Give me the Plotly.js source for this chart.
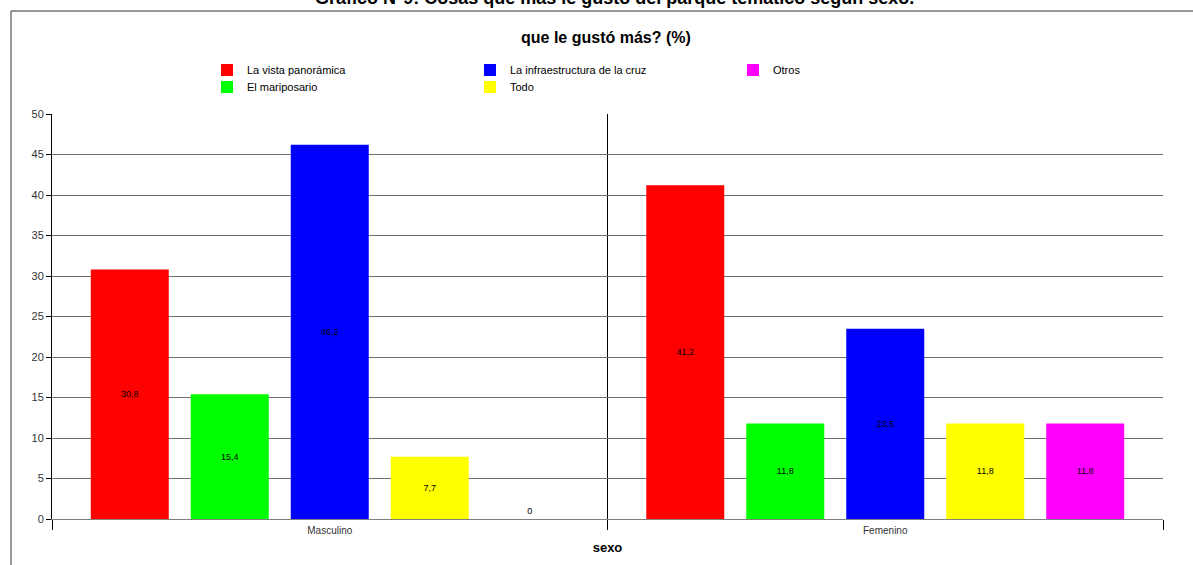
<!DOCTYPE html>
<html>
<head>
<meta charset="utf-8">
<script src="https://cdn.plot.ly/plotly-3.0.1.min.js"></script>
<style>
  html, body { margin: 0; padding: 0; background: #ffffff; }
  #chart { width: 1193px; height: 565px; }
</style>
</head>
<body>
<div id="chart"></div>
<script>
// Categories on the x axis
const categories = ['Masculino', 'Femenino'];

// Percentages per answer, one value per category
const vistaPanoramica = [30.8, 41.2];
const mariposario = [15.4, 11.8];
const infraestructuraCruz = [46.2, 23.5];
const todo = [7.7, 11.8];
const otros = [0, 11.8];

// Series names and colours, in bar order
const seriesNames = ['La vista panorámica', 'El mariposario', 'La infraestructura de la cruz', 'Todo', 'Otros'];
const seriesValues = [vistaPanoramica, mariposario, infraestructuraCruz, todo, otros];
const seriesColors = ['#ff0000', '#00ff00', '#0000ff', '#ffff00', '#ff00ff'];
// Legend row for each series (first row / second row)
const legendRow = ['legend', 'legend2', 'legend', 'legend2', 'legend'];

// Y-axis ticks
const yTicks = [0, 5, 10, 15, 20, 25, 30, 35, 40, 45, 50];

const FONT = '"Liberation Sans", Arial, sans-serif';

const traces = seriesNames.map((name, i) => ({
  type: 'bar',
  name: name,
  x: categories,
  y: seriesValues[i],
  legend: legendRow[i],
  marker: { color: seriesColors[i], line: { width: 0 } },
  text: seriesValues[i].map(v => String(v).replace('.', ',')),
  textposition: seriesValues[i].map(v => (v > 0 ? 'inside' : 'outside')),
  insidetextanchor: 'middle',
  textangle: 0,
  constraintext: 'none',
  cliponaxis: false,
  textfont: { family: FONT, size: 9, color: '#000000' },
  hoverinfo: 'name+y'
}));

const legendCommon = {
  orientation: 'h',
  xanchor: 'left',
  yanchor: 'middle',
  entrywidth: 218,
  entrywidthmode: 'pixels',
  font: { family: FONT, size: 11, color: '#000000' },
  bgcolor: 'rgba(0,0,0,0)',
  borderwidth: 0,
  itemclick: false,
  itemdoubleclick: false,
  traceorder: 'normal'
};

const layout = {
  width: 1193,
  height: 565,
  margin: { l: 52, r: 30, t: 114, b: 46, pad: 0 },
  paper_bgcolor: '#ffffff',
  plot_bgcolor: '#ffffff',
  font: { family: FONT, size: 11, color: '#333333' },
  separators: ',.',
  barmode: 'group',
  bargap: 0.1,
  bargroupgap: 0.22,
  showlegend: true,
  legend: Object.assign({ x: 0.1395, y: 1.1086 }, legendCommon),
  legend2: Object.assign({ x: 0.1395, y: 1.0667 }, legendCommon),
  xaxis: {
    type: 'category',
    tickson: 'boundaries',
    ticks: 'outside',
    ticklen: 10,
    tickcolor: '#000000',
    showgrid: true,
    gridcolor: '#000000',
    gridwidth: 1,
    showline: true,
    linecolor: '#808080',
    linewidth: 1,
    ticklabelstandoff: 2,
    tickfont: { family: FONT, size: 10, color: '#333333' },
    title: { text: '<b>sexo</b>', font: { family: FONT, size: 13, color: '#000000' }, standoff: 7 },
    fixedrange: true
  },
  yaxis: {
    range: [0, 50],
    autorange: false,
    tickvals: yTicks,
    ticks: 'outside',
    ticklen: 5,
    tickcolor: '#000000',
    showline: true,
    linecolor: '#000000',
    showgrid: true,
    gridcolor: '#6e6e6e',
    gridwidth: 1,
    zeroline: false,
    tickfont: { family: FONT, size: 11, color: '#333333' },
    fixedrange: true
  },
  yaxis2: {
    overlaying: 'y',
    side: 'right',
    range: [0, 50],
    autorange: false,
    tickvals: yTicks,
    ticks: 'outside',
    ticklen: 5,
    tickcolor: '#000000',
    showline: true,
    linecolor: '#000000',
    showgrid: false,
    zeroline: false,
    tickfont: { family: FONT, size: 11, color: '#333333' },
    fixedrange: true
  },
  annotations: [
    {
      text: '<b>Grafico N°9: Cosas que más le gustó del parque temático según sexo.</b>',
      xref: 'paper', yref: 'paper', x: 0.506, y: 1.2864,
      xanchor: 'center', yanchor: 'middle', showarrow: false,
      font: { family: FONT, size: 18, color: '#000000' }
    },
    {
      text: '<b>que le gustó más? (%)</b>',
      xref: 'paper', yref: 'paper', x: 0.4986, y: 1.1877,
      xanchor: 'center', yanchor: 'middle', showarrow: false,
      font: { family: FONT, size: 16, color: '#000000' }
    }
  ],
  shapes: [
    {
      type: 'rect', xref: 'paper', yref: 'paper',
      x0: -0.0369, x1: 1.04, y0: -0.13, y1: 1.2543,
      line: { color: '#333333', width: 1 }, fillcolor: 'rgba(0,0,0,0)', layer: 'below'
    }
  ]
};

Plotly.newPlot('chart', traces, layout, { displayModeBar: false, staticPlot: true });
</script>
</body>
</html>
